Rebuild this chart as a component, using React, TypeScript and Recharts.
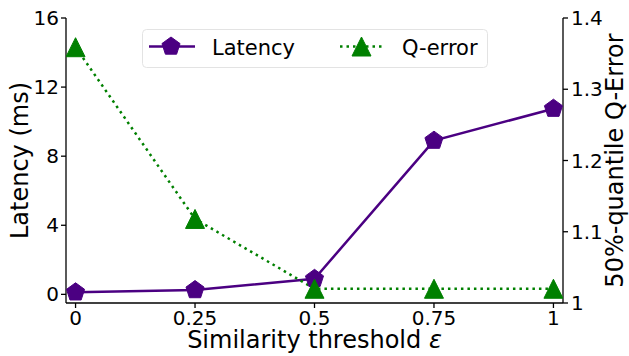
import React from 'react';
import { LineChart, Line, XAxis, YAxis, Legend } from 'recharts';

const thresholds = [0, 0.25, 0.5, 0.75, 1];
const latencyMs = [0.12, 0.25, 0.9, 8.9, 10.75];
const qError = [1.359, 1.118, 1.02, 1.02, 1.02];
const xTicks = [0, 0.25, 0.5, 0.75, 1];
const latencyTicks = [0, 4, 8, 12, 16];
const qErrorTicks = [1, 1.1, 1.2, 1.3, 1.4];

const data = thresholds.map((t, i) => ({ t, latency: latencyMs[i], qerr: qError[i] }));

const INDIGO = '#4b0082';
const GREEN = '#008000';
const FONT = 'DejaVu Sans';

const pentagonPoints = (cx: number, cy: number, r: number) => {
  const pts: string[] = [];
  for (let k = 0; k < 5; k++) {
    const a = (-90 + 72 * k) * (Math.PI / 180);
    pts.push(`${cx + r * Math.cos(a)},${cy + r * Math.sin(a)}`);
  }
  return pts.join(' ');
};

const trianglePoints = (cx: number, cy: number, h: number) =>
  `${cx},${cy - h} ${cx - h},${cy + h} ${cx + h},${cy + h}`;

const PentagonDot = (props: any) => {
  const { cx, cy, index } = props;
  if (cx == null || cy == null) return <g key={`p${index}`} />;
  return <polygon key={`p${index}`} points={pentagonPoints(cx, cy, 9.5)} fill={INDIGO} stroke={INDIGO} strokeWidth={1} />;
};

const TriangleDot = (props: any) => {
  const { cx, cy, index } = props;
  if (cx == null || cy == null) return <g key={`t${index}`} />;
  return <polygon key={`t${index}`} points={trianglePoints(cx, cy, 9.5)} fill={GREEN} stroke={GREEN} strokeWidth={1} />;
};

const LegendBox = () => (
  <svg width={346} height={39} style={{ display: 'block' }}>
    <rect x={0.5} y={0.5} width={345} height={38} rx={4} ry={4} fill="#ffffff" fillOpacity={0.8} stroke="#e3e3e3" strokeWidth={1} />
    <line x1={7} y1={17.5} x2={53} y2={17.5} stroke={INDIGO} strokeWidth={2.5} />
    <polygon points={pentagonPoints(29, 17.5, 9.5)} fill={INDIGO} stroke={INDIGO} strokeWidth={1} />
    <text x={70} y={26} fontFamily={FONT} fontSize={21} fill="#000">Latency</text>
    <line x1={198} y1={17.5} x2={241} y2={17.5} stroke={GREEN} strokeWidth={2.5} strokeDasharray="2.5 4" />
    <polygon points={trianglePoints(219.5, 17.5, 9.5)} fill={GREEN} stroke={GREEN} strokeWidth={1} />
    <text x={260} y={26} fontFamily={FONT} fontSize={21} fill="#000">Q-error</text>
  </svg>
);

const tickStyle = { fontFamily: FONT, fontSize: 20, fill: '#000' };

const LeftLabel = (props: any) => {
  const vb = props.viewBox || { x: 0, y: 18, width: 66, height: 285 };
  const x = vb.x + 27.5;
  const y = vb.y + vb.height / 2;
  return (
    <text x={x} y={y} transform={`rotate(-90, ${x}, ${y})`} textAnchor="middle" fontFamily={FONT} fontSize={24} fill="#000">
      Latency (ms)
    </text>
  );
};

const RightLabel = (props: any) => {
  const vb = props.viewBox || { x: 563, y: 18, width: 66, height: 285 };
  const x = vb.x + 59.5;
  const y = vb.y + vb.height / 2;
  return (
    <text x={x} y={y} transform={`rotate(-90, ${x}, ${y})`} textAnchor="middle" fontFamily={FONT} fontSize={24} fill="#000">
      50%-quantile Q-Error
    </text>
  );
};

const BottomLabel = (props: any) => {
  const vb = props.viewBox || { x: 66, y: 303, width: 497, height: 53 };
  const x = vb.x + vb.width / 2;
  return (
    <text x={x} y={348} textAnchor="middle" fontFamily={FONT} fontSize={24} fill="#000">
      Similarity threshold <tspan fontStyle="italic">ε</tspan>
    </text>
  );
};

export default function App() {
  return (
    <div style={{ position: 'absolute', left: 0, top: 0, width: 629, height: 356, background: '#fff' }}>
      <LineChart width={629} height={356} data={data} margin={{ top: 18, right: 0, bottom: 0, left: 0 }}>
        <XAxis
          dataKey="t"
          type="number"
          domain={[-0.02, 1.02]}
          ticks={xTicks}
          tickFormatter={(v: number) => String(v)}
          height={53}
          tick={tickStyle}
          tickSize={5}
          tickMargin={3}
          stroke="#000"
          axisLine={{ stroke: '#000', strokeWidth: 1.3 }}
          tickLine={{ stroke: '#000', strokeWidth: 1.3 }}
          allowDataOverflow
          label={<BottomLabel />}
        />
        <XAxis
          xAxisId="top"
          dataKey="t"
          type="number"
          orientation="top"
          domain={[-0.02, 1.02]}
          height={0}
          tick={false}
          tickLine={false}
          axisLine={{ stroke: '#000', strokeWidth: 1.3 }}
        />
        <YAxis
          yAxisId="left"
          type="number"
          domain={[-0.5, 16]}
          ticks={latencyTicks}
          width={66}
          tick={tickStyle}
          tickSize={5}
          tickMargin={2}
          axisLine={{ stroke: '#000', strokeWidth: 1.3 }}
          tickLine={{ stroke: '#000', strokeWidth: 1.3 }}
          allowDataOverflow
          label={<LeftLabel />}
        />
        <YAxis
          yAxisId="right"
          orientation="right"
          type="number"
          domain={[1, 1.4]}
          ticks={qErrorTicks}
          tickFormatter={(v: number) => String(v)}
          width={66}
          tick={tickStyle}
          tickSize={5}
          tickMargin={3}
          axisLine={{ stroke: '#000', strokeWidth: 1.3 }}
          tickLine={{ stroke: '#000', strokeWidth: 1.3 }}
          allowDataOverflow
          label={<RightLabel />}
        />
        <Legend
          layout="horizontal"
          verticalAlign="middle"
          align="center"
          content={() => <LegendBox />}
          wrapperStyle={{ position: 'absolute', left: 142, top: 29, width: 346, height: 39 }}
        />
        <Line
          yAxisId="left"
          dataKey="latency"
          name="Latency"
          stroke={INDIGO}
          strokeWidth={2.5}
          dot={<PentagonDot />}
          activeDot={false}
          isAnimationActive={false}
        />
        <Line
          yAxisId="right"
          dataKey="qerr"
          name="Q-error"
          stroke={GREEN}
          strokeWidth={2.5}
          strokeDasharray="2.5 4"
          dot={<TriangleDot />}
          activeDot={false}
          isAnimationActive={false}
        />
      </LineChart>
    </div>
  );
}
